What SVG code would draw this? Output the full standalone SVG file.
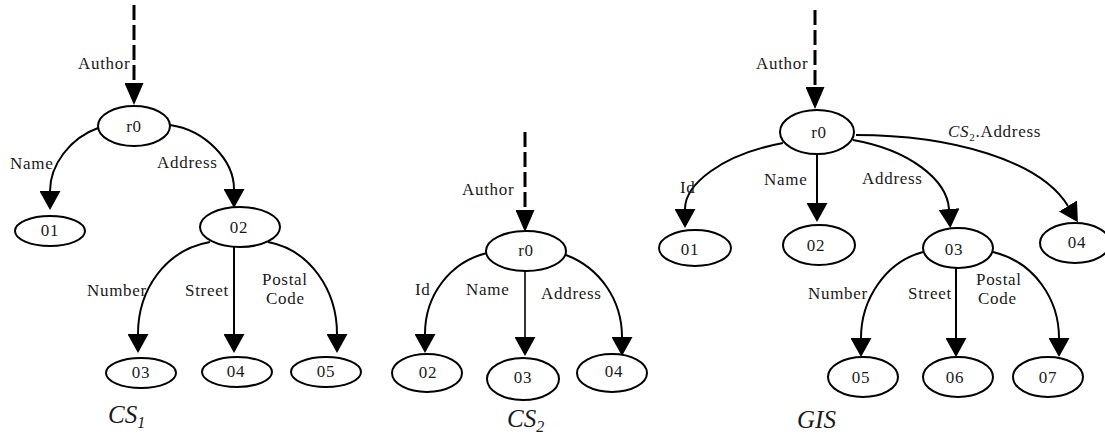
<svg xmlns="http://www.w3.org/2000/svg" width="1105" height="441" viewBox="0 0 1105 441">
<style>
.n{fill:#fff;stroke:#000;stroke-width:2}
.t{font-family:"Liberation Serif","Times New Roman",serif;font-size:17px;fill:#1a1a1a;letter-spacing:0.7px}
.c{text-anchor:middle}
.e{fill:none;stroke:#000;stroke-width:2;marker-end:url(#ah)}
.thin{stroke-width:1.6}
.d{fill:none;stroke:#000;stroke-width:3;stroke-dasharray:15 5;marker-end:url(#ad)}
.cap{font-family:"Liberation Serif","Times New Roman",serif;font-size:25px;font-style:italic;fill:#1a1a1a}
</style>
<defs>
<marker id="ah" markerUnits="userSpaceOnUse" viewBox="0 0 19 21" refX="0" refY="10.5" markerWidth="19" markerHeight="21" orient="auto"><path d="M0,0 L19,10.5 L0,21 z" fill="#000"/></marker>
<marker id="ad" markerUnits="userSpaceOnUse" viewBox="0 0 22 19" refX="0" refY="9.5" markerWidth="22" markerHeight="19" orient="auto"><path d="M0,0 L22,9.5 L0,19 z" fill="#000"/></marker>
</defs>
<g id="connectors">
<!-- CS1 -->
<path class="d" d="M134,5 L134,83"/>
<path class="e" d="M98,128 C70,138 50,165 50,191"/>
<path class="e" d="M170,125 C205,130 234,160 234,189"/>
<path class="e" d="M210,242 C165,250 138,290 138,334"/>
<path class="e" d="M234,247 L234,334"/>
<path class="e" d="M268,242 C310,250 337,290 337,334"/>
<!-- CS2 -->
<path class="d" d="M525,132 L525,210"/>
<path class="e" d="M487,253 C450,262 425,295 425,334"/>
<path class="e thin" d="M525,271 L525,337"/>
<path class="e" d="M566,255 C600,268 622,300 622,337"/>
<!-- GIS -->
<path class="d" d="M815,10 L815,87"/>
<path class="e" d="M783,143 C720,155 685,185 685,209"/>
<path class="e" d="M817,154 L817,203"/>
<path class="e" d="M853,140 C910,150 947,180 949,209"/>
<path class="e" d="M856,135 C950,135 1040,160 1068,206"/>
<path class="e" d="M923,252 C885,262 861,300 861,338"/>
<path class="e" d="M956,268 L956,338"/>
<path class="e" d="M993,252 C1035,262 1059,300 1059,338"/>
</g>
<g id="edge-labels">
<text class="t" x="78" y="69">Author</text>
<text class="t" x="10" y="169">Name</text>
<text class="t" x="157" y="168">Address</text>
<text class="t" x="87" y="296">Number</text>
<text class="t" x="185" y="296">Street</text>
<text class="t" x="262" y="285">Postal</text>
<text class="t" x="266" y="304">Code</text>
<text class="t" x="462" y="195">Author</text>
<text class="t" x="415" y="295">Id</text>
<text class="t" x="466" y="295">Name</text>
<text class="t" x="541" y="299">Address</text>
<text class="t" x="756" y="69">Author</text>
<text class="t" x="680" y="193">Id</text>
<text class="t" x="764" y="185">Name</text>
<text class="t" x="862" y="184">Address</text>
<text class="t" x="948" y="137"><tspan font-style="italic">CS</tspan><tspan font-size="11" dy="4">2</tspan><tspan dy="-4">.Address</tspan></text>
<text class="t" x="808" y="299">Number</text>
<text class="t" x="908" y="299">Street</text>
<text class="t" x="976" y="285">Postal</text>
<text class="t" x="978" y="304">Code</text>
</g>
<!-- CS1 nodes -->
<g id="cs1-r0"><ellipse class="n" cx="134" cy="126" rx="36" ry="20"/><text class="t c" x="134" y="132">r0</text></g>
<g id="cs1-01"><ellipse class="n" cx="50" cy="231" rx="35" ry="15"/><text class="t c" x="50" y="236">01</text></g>
<g id="cs1-02"><ellipse class="n" cx="240" cy="227" rx="40" ry="20"/><text class="t c" x="239" y="233">02</text></g>
<g id="cs1-03"><ellipse class="n" cx="141" cy="373" rx="35" ry="15"/><text class="t c" x="141" y="378">03</text></g>
<g id="cs1-04"><ellipse class="n" cx="237" cy="372" rx="35" ry="15"/><text class="t c" x="236" y="377">04</text></g>
<g id="cs1-05"><ellipse class="n" cx="326" cy="372" rx="35" ry="15"/><text class="t c" x="326" y="377">05</text></g>
<!-- CS2 nodes -->
<g id="cs2-r0"><ellipse class="n" cx="526" cy="251" rx="40" ry="20"/><text class="t c" x="526" y="256">r0</text></g>
<g id="cs2-02"><ellipse class="n" cx="427" cy="373" rx="35" ry="19"/><text class="t c" x="428" y="378">02</text></g>
<g id="cs2-03"><ellipse class="n" cx="523" cy="379" rx="36" ry="21"/><text class="t c" x="523" y="383">03</text></g>
<g id="cs2-04"><ellipse class="n" cx="612" cy="373" rx="35" ry="19"/><text class="t c" x="614" y="377">04</text></g>
<!-- GIS nodes -->
<g id="gis-r0"><ellipse class="n" cx="817" cy="132" rx="37" ry="22"/><text class="t c" x="819" y="138">r0</text></g>
<g id="gis-01"><ellipse class="n" cx="695" cy="248" rx="36" ry="18"/><text class="t c" x="690" y="255">01</text></g>
<g id="gis-02"><ellipse class="n" cx="819" cy="245" rx="36" ry="20"/><text class="t c" x="816" y="251">02</text></g>
<g id="gis-03"><ellipse class="n" cx="958" cy="248" rx="35" ry="20"/><text class="t c" x="954" y="255">03</text></g>
<g id="gis-04"><ellipse class="n" cx="1075" cy="243" rx="35" ry="20"/><text class="t c" x="1077" y="248">04</text></g>
<g id="gis-05"><ellipse class="n" cx="863" cy="377" rx="35" ry="20"/><text class="t c" x="861" y="383">05</text></g>
<g id="gis-06"><ellipse class="n" cx="958" cy="377" rx="35" ry="20"/><text class="t c" x="955" y="383">06</text></g>
<g id="gis-07"><ellipse class="n" cx="1048" cy="377" rx="35" ry="20"/><text class="t c" x="1048" y="383">07</text></g>
<g id="captions">
<text class="cap" x="108" y="423">CS<tspan font-size="16" dy="5">1</tspan></text>
<text class="cap" x="507" y="427">CS<tspan font-size="16" dy="5">2</tspan></text>
<text class="cap" x="797" y="428">GIS</text>
</g>
</svg>
